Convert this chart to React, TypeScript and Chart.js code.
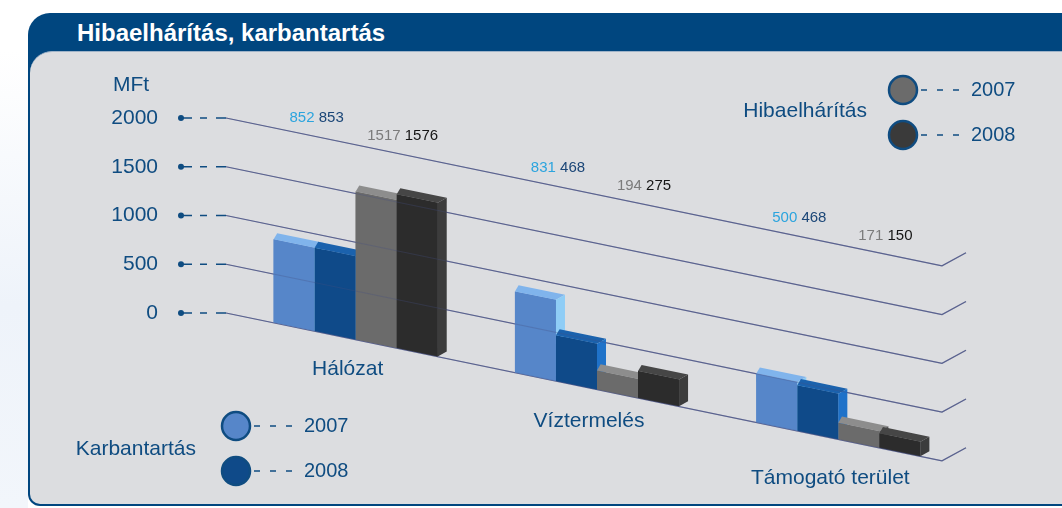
import React, { useEffect, useRef } from 'react';
import { Chart, registerables } from 'chart.js';

Chart.register(...registerables);

// ---- data ----
const categories = ['Hálózat', 'Víztermelés', 'Támogató terület'];
const karbantartas2007 = [852, 831, 500];
const karbantartas2008 = [853, 468, 468];
const hibaelharitas2007 = [1517, 194, 171];
const hibaelharitas2008 = [1576, 275, 150];
const yTicks = [0, 500, 1000, 1500, 2000];
const seriesNames = ['Karbantartás 2007', 'Karbantartás 2008', 'Hibaelhárítás 2007', 'Hibaelhárítás 2008'];
const legendYears = ['2007', '2008'];
const seriesData = [karbantartas2007, karbantartas2008, hibaelharitas2007, hibaelharitas2008];

// ---- styles ----
const FRONT = ['#5686c9', '#0f4a89', '#6b6b6b', '#2c2c2c'];
const TOP = ['#80b4ec', '#1b62ad', '#8d8d8d', '#464646'];
const SIDE = ['#8fcdf6', '#1f72c9', '#585858', '#3c3c3c'];
const LABEL = ['#2ba4de', '#1b4677', '#7b7b7b', '#151515'];
const K = 0.207;
const X0 = 228;
const DX = 9;
const DY = -5;
const BLUE = '#0f4c81';
const FONT = '"Liberation Sans", Arial, Helvetica, sans-serif';

const gridLine = (ctx: CanvasRenderingContext2D, py: number) => {
  const xEnd = 942;
  const yEnd = py + K * (xEnd - X0);
  ctx.beginPath();
  ctx.moveTo(226, py);
  ctx.lineTo(xEnd, yEnd);
  ctx.lineTo(966, yEnd - 13);
  ctx.stroke();
};

const perspective = {
  id: 'perspective',
  beforeDatasetsDraw(chart: any) {
    const ctx: CanvasRenderingContext2D = chart.ctx;
    const ys = chart.scales.y;
    ctx.save();
    ctx.strokeStyle = 'rgba(84,92,140,0.9)';
    ctx.lineWidth = 1.2;
    yTicks.forEach((v) => gridLine(ctx, ys.getPixelForValue(v)));
    // tick leaders
    ctx.strokeStyle = BLUE;
    ctx.fillStyle = BLUE;
    ctx.lineWidth = 1.5;
    yTicks.forEach((v) => {
      const py = ys.getPixelForValue(v);
      ctx.beginPath();
      ctx.arc(181, py, 3, 0, Math.PI * 2);
      ctx.fill();
      ctx.beginPath();
      ctx.moveTo(181, py);
      ctx.lineTo(192, py);
      ctx.moveTo(200, py);
      ctx.lineTo(207, py);
      ctx.moveTo(216, py);
      ctx.lineTo(226, py);
      ctx.stroke();
    });
    ctx.restore();
    // shear for the perspective
    ctx.save();
    ctx.setTransform(1, K, 0, 1, 0, -K * X0);
  },
  afterDatasetsDraw(chart: any) {
    const ctx: CanvasRenderingContext2D = chart.ctx;
    const oy = DY - K * DX;
    // redraw bars left to right with their 3D faces
    seriesData.forEach((_, i) => {
      const meta = chart.getDatasetMeta(i);
      meta.data.forEach((el: any) => {
        el.draw(ctx);
        const L = el.x - el.width / 2;
        const R = el.x + el.width / 2;
        const top = el.y;
        const base = el.base;
        ctx.fillStyle = TOP[i];
        ctx.beginPath();
        ctx.moveTo(L, top);
        ctx.lineTo(R, top);
        ctx.lineTo(R + DX, top + oy);
        ctx.lineTo(L + DX * 0.4, top + oy);
        ctx.closePath();
        ctx.fill();
        ctx.fillStyle = SIDE[i];
        ctx.beginPath();
        ctx.moveTo(R, top);
        ctx.lineTo(R + DX, top + oy);
        ctx.lineTo(R + DX, base + oy);
        ctx.lineTo(R, base);
        ctx.closePath();
        ctx.fill();
      });
    });
    ctx.restore();
    const ys = chart.scales.y;
    ctx.save();
    ctx.strokeStyle = 'rgba(70,80,130,0.3)';
    ctx.lineWidth = 1.2;
    yTicks.forEach((v) => gridLine(ctx, ys.getPixelForValue(v)));
    ctx.restore();
  },
  afterDraw(chart: any) {
    const ctx: CanvasRenderingContext2D = chart.ctx;
    const ys = chart.scales.y;
    const xs = chart.scales.x;
    const metas = seriesData.map((_, i) => chart.getDatasetMeta(i));
    ctx.save();
    ctx.textBaseline = 'middle';

    // y tick labels
    ctx.fillStyle = BLUE;
    ctx.font = `21px ${FONT}`;
    ctx.textAlign = 'right';
    yTicks.forEach((v) => ctx.fillText(String(v), 158, ys.getPixelForValue(v)));
    ctx.textAlign = 'left';
    ctx.fillText('MFt', 113, 85);

    // value labels
    ctx.font = `15px ${FONT}`;
    const labelBase = ys.getPixelForValue(2000) - 18;
    const pair = (a: number, b: number, ca: string, cb: string, cx: number) => {
      const ta = String(a);
      const tb = String(b);
      const wa = ctx.measureText(ta).width;
      const ws = ctx.measureText(' ').width;
      const wb = ctx.measureText(tb).width;
      const start = cx - (wa + ws + wb) / 2;
      const y = labelBase + K * (cx - X0);
      ctx.fillStyle = ca;
      ctx.fillText(ta, start, y);
      ctx.fillStyle = cb;
      ctx.fillText(tb, start + wa + ws, y);
    };
    categories.forEach((_, j) => {
      const b1 = (metas[0].data[j].x + metas[1].data[j].x) / 2 + 2;
      const b2 = (metas[2].data[j].x + metas[3].data[j].x) / 2 + 6;
      pair(seriesData[0][j], seriesData[1][j], LABEL[0], LABEL[1], b1);
      pair(seriesData[2][j], seriesData[3][j], LABEL[2], LABEL[3], b2);
    });

    // category labels
    ctx.font = `21px ${FONT}`;
    ctx.fillStyle = BLUE;
    ctx.textAlign = 'center';
    categories.forEach((c, j) => {
      const cx = xs.getPixelForValue(j) - 8;
      const y = ys.getPixelForValue(0) + K * (cx - X0) + 31 + j * j * 2.5;
      ctx.fillText(c, cx, y);
    });

    // legends
    const legend = (title: string, tx: number, ty: number, cx: number, cy: number[], fills: string[]) => {
      ctx.font = `21px ${FONT}`;
      ctx.fillStyle = BLUE;
      ctx.textAlign = 'right';
      ctx.fillText(title, tx, ty);
      cy.forEach((y, k) => {
        ctx.beginPath();
        ctx.arc(cx, y, 14, 0, Math.PI * 2);
        ctx.fillStyle = fills[k];
        ctx.fill();
        ctx.lineWidth = 2.5;
        ctx.strokeStyle = BLUE;
        ctx.stroke();
        ctx.lineWidth = 1.3;
        ctx.beginPath();
        ctx.setLineDash([6, 10]);
        ctx.moveTo(cx + 18, y);
        ctx.lineTo(cx + 62, y);
        ctx.stroke();
        ctx.setLineDash([]);
        ctx.fillStyle = BLUE;
        ctx.textAlign = 'left';
        ctx.font = `20px ${FONT}`;
        ctx.fillText(legendYears[k], cx + 68, y);
      });
    };
    legend('Hibaelhárítás', 867, 111, 903, [90, 135], [FRONT[2], '#3a3a3a']);
    legend('Karbantartás', 196, 449, 236, [426, 471], [FRONT[0], FRONT[1]]);
    ctx.restore();
  },
};

export default function App() {
  const ref = useRef<HTMLCanvasElement>(null);
  useEffect(() => {
    const chart = new Chart(ref.current as HTMLCanvasElement, {
      type: 'bar',
      data: {
        labels: categories,
        datasets: seriesData.map((d, i) => ({
          label: seriesNames[i],
          data: d,
          backgroundColor: FRONT[i],
          borderWidth: 0,
          barPercentage: 1,
          categoryPercentage: 0.68,
          clip: false,
        })),
      },
      options: {
        responsive: false,
        animation: false,
        devicePixelRatio: 1,
        events: [],
        layout: { padding: { left: 235, right: 103, top: 118, bottom: 195 } },
        scales: {
          x: { display: false, offset: true },
          y: { display: false, min: 0, max: 2000 },
        },
        plugins: { legend: { display: false }, tooltip: { enabled: false } },
      },
      plugins: [perspective],
    } as any);
    return () => chart.destroy();
  }, []);

  return (
    <div style={{ position: 'fixed', left: 0, top: 0, width: 1062, height: 508, background: '#ffffff', overflow: 'hidden', fontFamily: FONT }}>
      <div style={{ position: 'absolute', left: 0, top: 0, width: 28, height: 508, background: 'linear-gradient(to bottom, #ffffff 10%, #eef3fa 60%, #f2f6fb)' }} />
      <div style={{ position: 'absolute', left: 28, top: 13, width: 1100, height: 493, background: '#00467f', borderTopLeftRadius: 22, borderBottomLeftRadius: 12 }} />
      <div style={{ position: 'absolute', left: 30, top: 51, width: 1100, height: 453, background: '#dcdde0', borderTopLeftRadius: 22, borderBottomLeftRadius: 10, borderTop: '1px solid #9fb3c8', boxSizing: 'border-box' }} />
      <div style={{ position: 'absolute', left: 77, top: 18, height: 30, lineHeight: '30px', color: '#ffffff', fontWeight: 'bold', fontSize: 24, whiteSpace: 'nowrap' }}>
        Hibaelhárítás, karbantartás
      </div>
      <canvas ref={ref} width={1062} height={508} style={{ position: 'absolute', left: 0, top: 0 }} />
    </div>
  );
}
